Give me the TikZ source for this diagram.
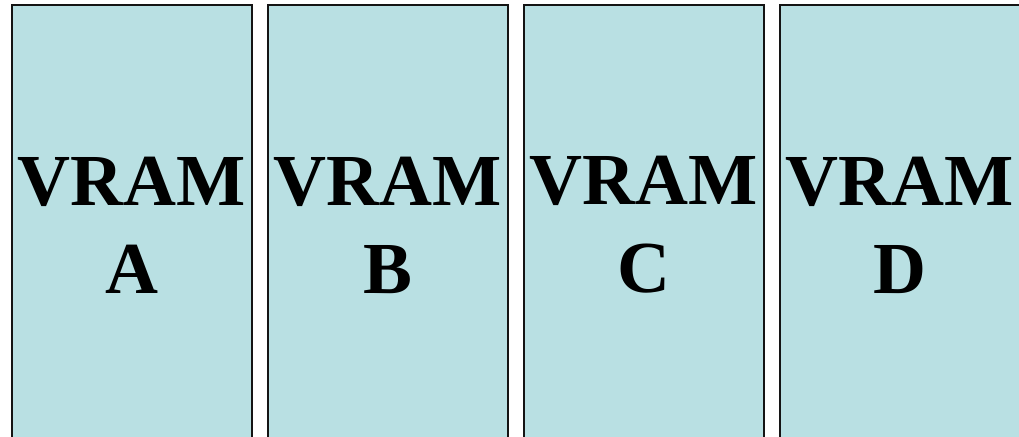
\documentclass[tikz,border=0pt]{standalone}
\usepackage{fontspec}
\setmainfont{Liberation Serif}
\usepackage{tikz}
\usetikzlibrary{positioning}
\definecolor{vramCyan}{RGB}{185,224,227}
\definecolor{vramEdge}{RGB}{20,20,20}

\begin{document}
\begin{tikzpicture}[
  x=0.75pt, y=-0.75pt,
  bank/.style={
    rectangle, draw=vramEdge, fill=vramCyan, line width=1.5pt,
    minimum width=240*0.75pt, minimum height=440*0.75pt,
    inner sep=0pt, align=center,
    font=\fontsize{55}{66}\selectfont\bfseries
  }
]
  \useasboundingbox (0,0) rectangle (1019,436);
  \clip (0,0) rectangle (1019,436);

  \node[bank] (A) at (132,225) {VRAM\\A};
  \node[bank] (B) at (388,225) {VRAM\\B};
  \node[bank] (C) at (644,225) {VRAM\\C};
  \node[bank] (D) at (900,225) {VRAM\\D};
\end{tikzpicture}
\end{document}
